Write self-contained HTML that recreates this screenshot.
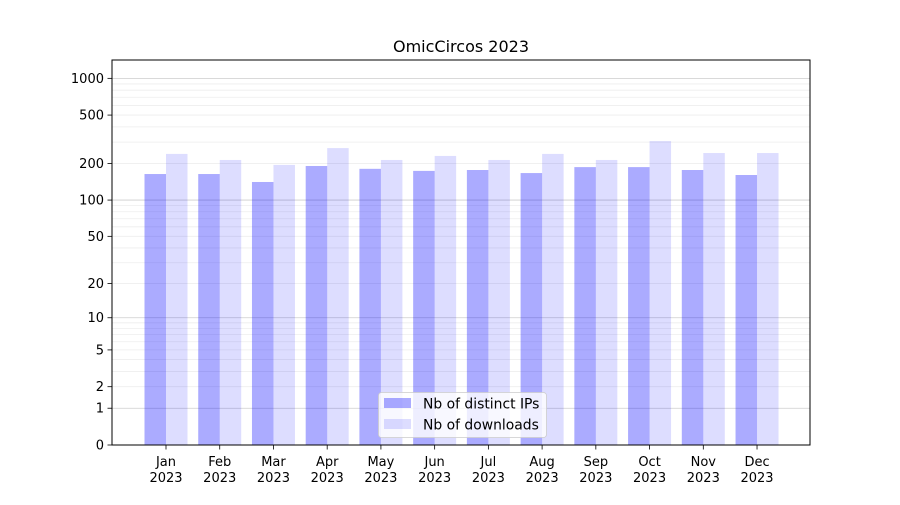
<!DOCTYPE html>
<html><head><meta charset="utf-8"><style>
body{margin:0;background:#fff}
svg text{font-family:"DejaVu Sans","Liberation Sans",sans-serif;fill:#000}
</style></head><body>
<svg id="s" width="900" height="500" xmlns="http://www.w3.org/2000/svg"></svg>
<script>
const s=document.getElementById('s');
const K=122.2, Y0=445;
const y=v=>Y0-K*Math.log10(1+v);
let h='<rect width="900" height="500" fill="#fff"/>';
for(const d of [1,10,100]) for(let m=2;m<=9;m++){const v=d*m;h+=`<line x1="112" x2="810" y1="${y(v)}" y2="${y(v)}" stroke="#000" stroke-opacity="0.07" stroke-width="0.8"/>`;}
for(const v of [0,1,10,100,1000]) h+=`<line x1="112" x2="810" y1="${y(v)}" y2="${y(v)}" stroke="#000" stroke-opacity="0.2" stroke-width="0.8"/>`;
const ips=[164,164,141,191,181,174,177,167,187,187,177,161];
const dl=[240,214,195,268,214,231,214,240,214,306,244,244];
const mon=['Jan','Feb','Mar','Apr','May','Jun','Jul','Aug','Sep','Oct','Nov','Dec'];
for(let i=0;i<12;i++){
 const c=166+i*53.73;
 h+=`<rect x="${c-21.5}" y="${y(ips[i])}" width="21.5" height="${Y0-y(ips[i])}" fill="#0000ff" fill-opacity="0.33"/>`;
 h+=`<rect x="${c}" y="${y(dl[i])}" width="21.5" height="${Y0-y(dl[i])}" fill="#0000ff" fill-opacity="0.135"/>`;
 h+=`<line x1="${c}" x2="${c}" y1="445" y2="449.5" stroke="#000" stroke-width="0.8"/>`;
 h+=`<text x="${c}" y="466" font-size="13" text-anchor="middle">${mon[i]}</text><text x="${c}" y="482" font-size="13" text-anchor="middle">2023</text>`;
}
for(const v of [0,1,2,5,10,20,50,100,200,500,1000]){
 h+=`<line x1="107.5" x2="112" y1="${y(v)}" y2="${y(v)}" stroke="#000" stroke-width="0.8"/>`;
 h+=`<text x="104" y="${y(v)+4.5}" font-size="13" text-anchor="end">${v}</text>`;
}
h+=`<rect x="112" y="60" width="698" height="385" fill="none" stroke="#000" stroke-width="1"/>`;
h+=`<text x="461" y="52" font-size="16" text-anchor="middle">OmicCircos 2023</text>`;
h+=`<rect x="378.5" y="392.5" width="168" height="45" rx="3" fill="#fff" fill-opacity="0.8" stroke="#ccc" stroke-width="0.8"/>`;
h+=`<rect x="384" y="398" width="27" height="10" fill="#0000ff" fill-opacity="0.33"/>`;
h+=`<rect x="384" y="419" width="27" height="10" fill="#0000ff" fill-opacity="0.135"/>`;
h+=`<text x="423" y="408.5" font-size="13.9">Nb of distinct IPs</text>`;
h+=`<text x="423" y="429.5" font-size="13.9">Nb of downloads</text>`;
s.innerHTML=h;
</script>
</body></html>
